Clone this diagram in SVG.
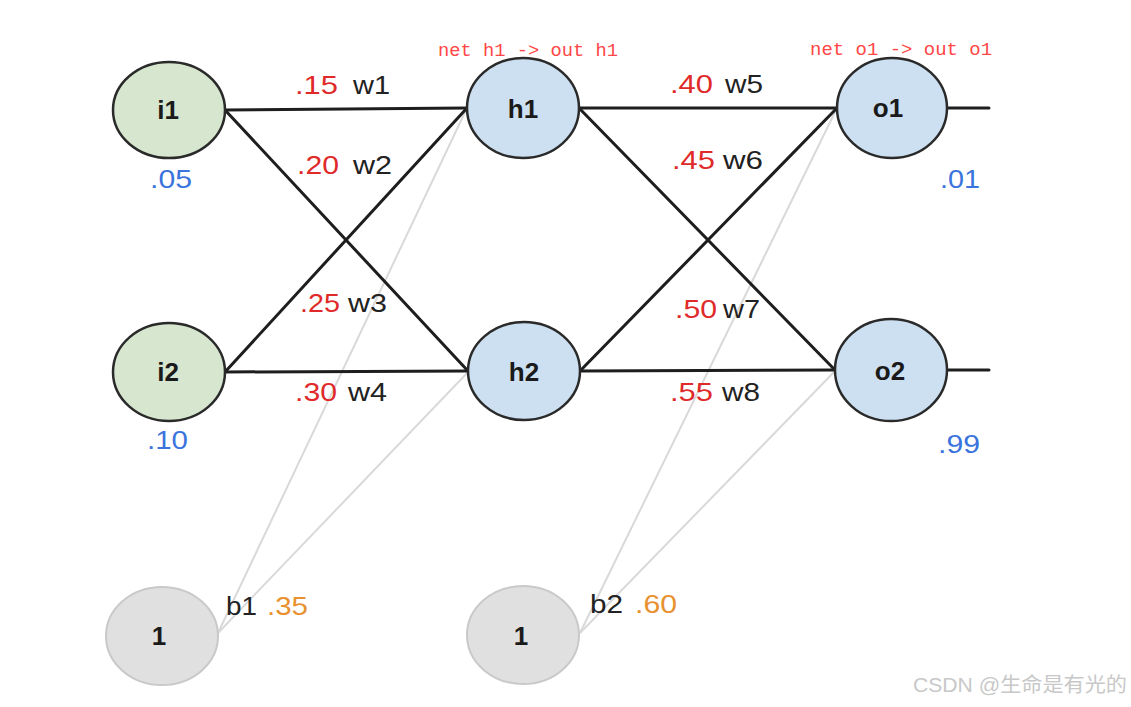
<svg xmlns="http://www.w3.org/2000/svg" width="1131" height="707" viewBox="0 0 1131 707">
<style>
.bg{fill:#ffffff}
.w{stroke:#1e1e1e;stroke-width:3;fill:none;stroke-linecap:round}
.b{stroke:#d9d9d9;stroke-width:2;fill:none}
.in{fill:#d6e6cf;stroke:#2a2a2a;stroke-width:2.5}
.hid{fill:#cde0f1;stroke:#2a2a2a;stroke-width:2.5}
.bias{fill:#e0e0e0;stroke:#c9c9c9;stroke-width:2}
.nl{font-family:"Liberation Sans",Arial,sans-serif;font-weight:bold;font-size:26px;fill:#1a1a1a;text-anchor:middle}
.t{font-family:"Liberation Sans",Arial,sans-serif;font-size:26px}
.red{fill:#e02a2a}
.blk{fill:#222222}
.blue{fill:#3a74dc}
.org{fill:#e8912e}
.net{font-family:"Liberation Mono","Courier New",monospace;font-size:18px;fill:#ff4646}
.wm{font-family:"Liberation Sans","Noto Sans CJK SC",sans-serif;font-size:20px;fill:#c8c8c8}
</style>
<rect class="bg" x="0" y="0" width="1131" height="707"/>
<g id="connectors">
  <line class="b" x1="218" y1="633" x2="467" y2="108"/>
  <line class="b" x1="218" y1="633" x2="469" y2="371"/>
  <line class="b" x1="580" y1="633" x2="837" y2="108"/>
  <line class="b" x1="580" y1="633" x2="836" y2="370"/>
  <line class="w" x1="225" y1="110" x2="467" y2="108"/>
  <line class="w" x1="225" y1="110" x2="468" y2="371"/>
  <line class="w" x1="225" y1="372" x2="467" y2="108"/>
  <line class="w" x1="225" y1="372" x2="468" y2="371"/>
  <line class="w" x1="579" y1="108" x2="837" y2="108"/>
  <line class="w" x1="579" y1="108" x2="835" y2="370"/>
  <line class="w" x1="580" y1="371" x2="837" y2="108"/>
  <line class="w" x1="580" y1="371" x2="835" y2="370"/>
  <line class="w" x1="947" y1="108" x2="989" y2="108"/>
  <line class="w" x1="947" y1="370" x2="989" y2="370"/>
</g>
<g id="i1"><ellipse class="in" cx="169" cy="110" rx="56" ry="48"/><text class="nl" x="168" y="119">i1</text></g>
<g id="i2"><ellipse class="in" cx="169" cy="372" rx="56" ry="49"/><text class="nl" x="168" y="381">i2</text></g>
<g id="h1"><ellipse class="hid" cx="523" cy="108" rx="56" ry="50"/><text class="nl" x="523" y="118">h1</text></g>
<g id="h2"><ellipse class="hid" cx="524" cy="371" rx="56" ry="49"/><text class="nl" x="524" y="381">h2</text></g>
<g id="o1"><ellipse class="hid" cx="892" cy="108" rx="55" ry="50"/><text class="nl" x="888" y="117">o1</text></g>
<g id="o2"><ellipse class="hid" cx="891" cy="370" rx="56" ry="51"/><text class="nl" x="890" y="380">o2</text></g>
<g id="bias1"><ellipse class="bias" cx="162" cy="636" rx="56" ry="49"/><text class="nl" x="159" y="645">1</text></g>
<g id="bias2"><ellipse class="bias" cx="523" cy="635" rx="56" ry="49"/><text class="nl" x="521" y="645">1</text></g>
<g id="labels">
  <text class="net" x="438" y="56" textLength="180" lengthAdjust="spacingAndGlyphs">net h1 -&gt; out h1</text>
  <text class="net" x="810" y="55" textLength="182" lengthAdjust="spacingAndGlyphs">net o1 -&gt; out o1</text>
  <text class="t red" x="295" y="94" textLength="43" lengthAdjust="spacingAndGlyphs">.15</text>
  <text class="t blk" x="353" y="94" textLength="37" lengthAdjust="spacingAndGlyphs">w1</text>
  <text class="t red" x="297" y="174" textLength="42" lengthAdjust="spacingAndGlyphs">.20</text>
  <text class="t blk" x="353" y="174" textLength="39" lengthAdjust="spacingAndGlyphs">w2</text>
  <text class="t red" x="300" y="312" textLength="40" lengthAdjust="spacingAndGlyphs">.25</text>
  <text class="t blk" x="348" y="312" textLength="39" lengthAdjust="spacingAndGlyphs">w3</text>
  <text class="t red" x="295" y="401" textLength="42" lengthAdjust="spacingAndGlyphs">.30</text>
  <text class="t blk" x="348" y="401" textLength="39" lengthAdjust="spacingAndGlyphs">w4</text>
  <text class="t red" x="670" y="93" textLength="43" lengthAdjust="spacingAndGlyphs">.40</text>
  <text class="t blk" x="725" y="93" textLength="38" lengthAdjust="spacingAndGlyphs">w5</text>
  <text class="t red" x="672" y="169" textLength="43" lengthAdjust="spacingAndGlyphs">.45</text>
  <text class="t blk" x="723" y="169" textLength="40" lengthAdjust="spacingAndGlyphs">w6</text>
  <text class="t red" x="675" y="318" textLength="42" lengthAdjust="spacingAndGlyphs">.50</text>
  <text class="t blk" x="723" y="318" textLength="37" lengthAdjust="spacingAndGlyphs">w7</text>
  <text class="t red" x="670" y="401" textLength="43" lengthAdjust="spacingAndGlyphs">.55</text>
  <text class="t blk" x="722" y="401" textLength="38" lengthAdjust="spacingAndGlyphs">w8</text>
  <text class="t blue" x="150" y="188" textLength="42" lengthAdjust="spacingAndGlyphs">.05</text>
  <text class="t blue" x="147" y="449" textLength="41" lengthAdjust="spacingAndGlyphs">.10</text>
  <text class="t blue" x="940" y="188" textLength="40" lengthAdjust="spacingAndGlyphs">.01</text>
  <text class="t blue" x="938" y="453" textLength="42" lengthAdjust="spacingAndGlyphs">.99</text>
  <text class="t blk" x="226" y="615" textLength="31" lengthAdjust="spacingAndGlyphs">b1</text>
  <text class="t org" x="267" y="615" textLength="41" lengthAdjust="spacingAndGlyphs">.35</text>
  <text class="t blk" x="590" y="613" textLength="33" lengthAdjust="spacingAndGlyphs">b2</text>
  <text class="t org" x="635" y="613" textLength="42" lengthAdjust="spacingAndGlyphs">.60</text>
  <text class="wm" x="913" y="692" textLength="214" lengthAdjust="spacingAndGlyphs">CSDN @生命是有光的</text>
</g>
</svg>
